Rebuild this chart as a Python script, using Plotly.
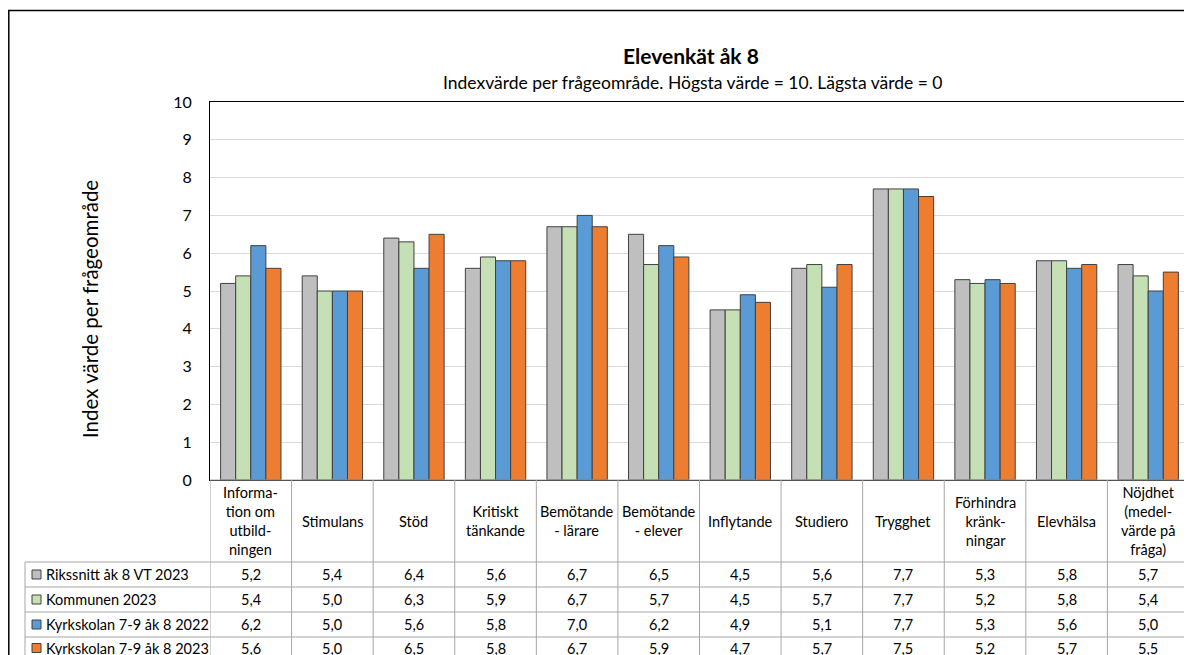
import plotly.graph_objects as go

categories = ["Information om utbildningen", "Stimulans", "Stöd", "Kritiskt tänkande",
              "Bemötande - lärare", "Bemötande - elever", "Inflytande", "Studiero",
              "Trygghet", "Förhindra kränkningar", "Elevhälsa", "Nöjdhet (medelvärde på fråga)"]
header_labels = ["Informa-<br>tion om<br>utbild-<br>ningen", "Stimulans", "Stöd", "Kritiskt<br>tänkande",
                 "Bemötande<br>- lärare", "Bemötande<br>- elever", "Inflytande", "Studiero",
                 "Trygghet", "Förhindra<br>kränk-<br>ningar", "Elevhälsa", "Nöjdhet<br>(medel-<br>värde på<br>fråga)"]

series_names = ["Rikssnitt åk 8 VT 2023", "Kommunen 2023", "Kyrkskolan 7-9 åk 8 2022", "Kyrkskolan 7-9 åk 8 2023"]
rikssnitt = [5.2, 5.4, 6.4, 5.6, 6.7, 6.5, 4.5, 5.6, 7.7, 5.3, 5.8, 5.7]
kommunen = [5.4, 5.0, 6.3, 5.9, 6.7, 5.7, 4.5, 5.7, 7.7, 5.2, 5.8, 5.4]
kyrk_2022 = [6.2, 5.0, 5.6, 5.8, 7.0, 6.2, 4.9, 5.1, 7.7, 5.3, 5.6, 5.0]
kyrk_2023 = [5.6, 5.0, 6.5, 5.8, 6.7, 5.9, 4.7, 5.7, 7.5, 5.2, 5.7, 5.5]
series_values = [rikssnitt, kommunen, kyrk_2022, kyrk_2023]
colors = ["#bfbfbf", "#c5e0b4", "#5b9bd5", "#ed7d31"]

title = "Elevenkät åk 8"
subtitle = "Indexvärde per frågeområde. Högsta värde = 10. Lägsta värde = 0"
y_title = "Index värde per frågeområde"
y_ticks = list(range(0, 11))

FONT = "Lato, Carlito, 'Open Sans', sans-serif"

# the page places the figure 8px in from the window corner
OFF = 8
W, H = 1192 - OFF, 655 - OFF


def px(x):
    return (x - OFF) / W


def py(y):
    return 1 - (y - OFF) / H


# layout geometry (window pixels)
PL, PR, PT, PB = 210, 1189, 102, 480
ROW_TOP = 562
ROW_H = 25
LEG_L = 25
GRID = "#a6a6a6"

idx = list(range(len(categories)))

fig = go.Figure()
for name, vals, col in zip(series_names, series_values, colors):
    fig.add_trace(go.Bar(
        x=idx, y=vals, name=name,
        marker=dict(color=col, line=dict(color="#404040", width=1)),
        hoverinfo="y+name",
    ))

shapes = []
annotations = []

# outer chart frame
shapes.append(dict(type="rect", xref="paper", yref="paper", x0=px(8.8), x1=px(1210), y0=py(680), y1=py(10.5),
                   line=dict(color="#000000", width=1.5), fillcolor="rgba(0,0,0,0)", layer="below"))

# table horizontal lines
shapes.append(dict(type="line", xref="paper", yref="paper", x0=px(PL), x1=px(PR), y0=py(PB), y1=py(PB),
                   line=dict(color=GRID, width=1)))
for r in range(len(series_names) + 1):
    yy = ROW_TOP + r * ROW_H
    shapes.append(dict(type="line", xref="paper", yref="paper", x0=px(LEG_L), x1=px(PR), y0=py(yy), y1=py(yy),
                       line=dict(color=GRID, width=1)))
# table vertical lines (category boundaries)
for i in range(len(categories) + 1):
    shapes.append(dict(type="line", xref="x", yref="paper", x0=i - 0.5, x1=i - 0.5, y0=py(PB), y1=py(700),
                       line=dict(color=GRID, width=1)))
shapes.append(dict(type="line", xref="paper", yref="paper", x0=px(LEG_L), x1=px(LEG_L), y0=py(ROW_TOP), y1=py(700),
                   line=dict(color=GRID, width=1)))

# header labels
for i, lab in enumerate(header_labels):
    annotations.append(dict(xref="x", yref="paper", x=i, y=py((PB + ROW_TOP) / 2), text=lab, showarrow=False,
                            xanchor="center", yanchor="middle", align="center",
                            font=dict(family=FONT, size=14.5, color="#000000")))

# data rows
for r, (name, vals, col) in enumerate(zip(series_names, series_values, colors)):
    yc = ROW_TOP + r * ROW_H + ROW_H / 2 - (1.5 if r == len(series_names) - 1 else 0)
    shapes.append(dict(type="rect", xref="paper", yref="paper", x0=px(LEG_L + 7), x1=px(LEG_L + 16),
                       y0=py(yc + 4.5), y1=py(yc - 4.5), fillcolor=col, line=dict(color="#404040", width=1)))
    annotations.append(dict(xref="paper", yref="paper", x=px(LEG_L + 19), y=py(yc), text=name, showarrow=False,
                            xanchor="left", yanchor="middle", font=dict(family=FONT, size=14.5, color="#000000")))
    for i, v in enumerate(vals):
        annotations.append(dict(xref="x", yref="paper", x=i, y=py(yc), text=f"{v:.1f}".replace(".", ","),
                                showarrow=False, xanchor="center", yanchor="middle",
                                font=dict(family=FONT, size=14.5, color="#000000")))

# titles
annotations.append(dict(xref="paper", yref="paper", x=px(691), y=py(56), text=f"<b>{title}</b>", showarrow=False,
                        xanchor="center", yanchor="middle", font=dict(family=FONT, size=21, color="#000000")))
annotations.append(dict(xref="paper", yref="paper", x=px(693), y=py(82), text=subtitle, showarrow=False,
                        xanchor="center", yanchor="middle", font=dict(family=FONT, size=17.5, color="#000000")))
annotations.append(dict(xref="paper", yref="paper", x=px(90), y=py(309), text=y_title, showarrow=False,
                        textangle=-90, xanchor="center", yanchor="middle",
                        font=dict(family=FONT, size=20.5, color="#000000")))

fig.update_layout(
    width=W, height=H,
    margin=dict(l=0, r=0, t=0, b=0, autoexpand=False),
    paper_bgcolor="white", plot_bgcolor="white",
    barmode="group", bargap=0.26, bargroupgap=0,
    showlegend=False,
    shapes=shapes, annotations=annotations,
    font=dict(family=FONT, color="#000000"),
)
fig.update_xaxes(domain=[px(PL), px(PR)], range=[-0.5, len(categories) - 0.5], automargin=False,
                 showticklabels=False, showgrid=False, zeroline=False,
                 showline=True, linecolor="#000000", linewidth=1, mirror=True, ticks="")
fig.update_yaxes(domain=[py(PB), py(PT)], range=[0, 10], tickvals=y_ticks, automargin=False,
                 showgrid=True, gridcolor="#d9d9d9", gridwidth=1, zeroline=False,
                 showline=True, linecolor="#000000", linewidth=1, mirror=True,
                 ticks="", ticklabelstandoff=14,
                 tickfont=dict(family=FONT, size=16, color="#000000"))

fig.write_html("out.html")
